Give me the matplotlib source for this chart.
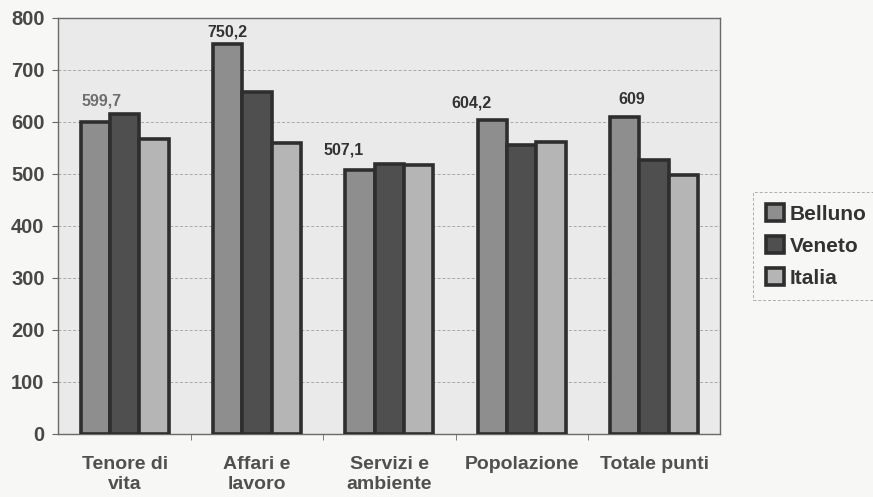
import matplotlib
matplotlib.use("Agg")
import matplotlib.pyplot as plt
import numpy as np

categories = ["Tenore di\nvita", "Affari e\nlavoro", "Servizi e\nambiente", "Popolazione", "Totale punti"]
belluno = [599.7, 750.2, 507.1, 604.2, 609]
veneto = [616, 657, 519, 556, 527]
italia = [567, 560, 518, 561, 497]
belluno_labels = ["599,7", "750,2", "507,1", "604,2", "609"]

series = [("Belluno", belluno, "#8e8e8e"),
          ("Veneto", veneto, "#4f4f4f"),
          ("Italia", italia, "#b5b5b5")]

# label placement tweaks (x in category units, y in data units)
label_dx = [0.05, 0.0, -0.12, -0.16, 0.05]
label_dy = [26, 8, 24, 18, 20]
label_colors = ["#6e6e6e", "#333333", "#333333", "#333333", "#333333"]

EDGE = "#2e2e2e"

plt.rcParams["font.family"] = "Liberation Sans"
plt.rcParams["font.weight"] = "bold"

fig = plt.figure(figsize=(8.73, 4.97), dpi=100, facecolor="#f7f7f5")
ax = fig.add_axes([0.067, 0.127, 0.758, 0.837])
ax.set_facecolor("#eaeaea")

x = np.arange(len(categories))
w = 0.222
for i, (name, vals, col) in enumerate(series):
    ax.bar(x + (i - 1) * w, vals, w, color=col, edgecolor=EDGE, linewidth=2.6,
           label=name, zorder=3)

for xi, v, lab, dx, dy, c in zip(x, belluno, belluno_labels, label_dx, label_dy, label_colors):
    ax.text(xi - w + dx, v + dy, lab, ha="center", va="bottom",
            fontsize=11.5, fontweight="bold", color=c)

ax.set_xlim(-0.5, len(categories) - 0.5)
ax.set_ylim(0, 800)
ax.set_yticks(range(0, 801, 100))
ax.set_xticks(x)
ax.set_xticklabels(categories, fontsize=14, fontweight="bold", color="#505050",
                   linespacing=1.25)
ax.tick_params(axis="y", labelsize=14.5, labelcolor="#484848", length=4, color="#666", pad=6)
ax.tick_params(axis="x", length=0, pad=16)
for t in ax.get_yticklabels():
    t.set_fontweight("bold")
ax.set_xticks(np.arange(0.5, len(categories) - 0.5), minor=True)
ax.tick_params(axis="x", which="minor", length=4, color="#666")

ax.yaxis.grid(True, color="#aaaaaa", linestyle=(0, (3, 2)), linewidth=0.7, zorder=0)
for s in ax.spines.values():
    s.set_color("#6a6a6a")
    s.set_linewidth(1.0)

leg = fig.legend(loc="center left", bbox_to_anchor=(0.851, 0.505), fontsize=15,
                 frameon=True, fancybox=False, edgecolor="#9a9a9a",
                 handlelength=0.85, handleheight=0.85, handletextpad=0.3,
                 labelspacing=0.6, borderpad=0.6)
leg.get_frame().set_linestyle((0, (3, 2)))
leg.get_frame().set_linewidth(0.7)
leg.get_frame().set_facecolor("none")
for t in leg.get_texts():
    t.set_color("#333")
    t.set_fontweight("bold")

fig.savefig("out.png", dpi=100, facecolor=fig.get_facecolor())
